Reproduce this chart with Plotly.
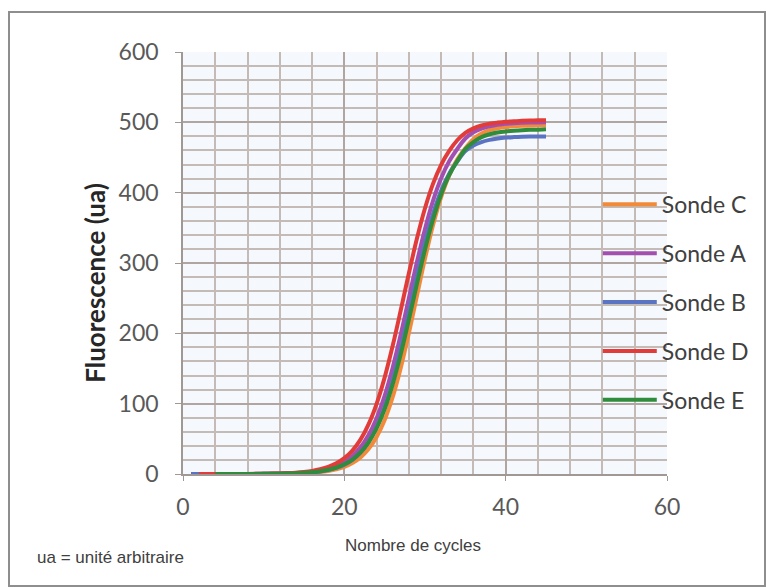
import plotly.graph_objects as go

# ---- data ----
cycles = list(range(1, 46))

sonde_c = [0.0, 0.0, 0.0, 0.01, 0.02, 0.03, 0.04, 0.06, 0.09, 0.13, 0.21, 0.32, 0.49, 0.76, 1.17,
           1.81, 2.79, 4.3, 6.6, 10.1, 15.5, 23.5, 35.4, 52.7, 76.9, 109.5, 151.0, 200.1, 253.4, 306.2,
           354.0, 393.7, 424.6, 447.3, 463.3, 476.0, 484.0, 489.0, 491.5, 493.2, 494.3, 495.0, 495.5, 495.8, 496.0]
sonde_a = [0.01, 0.01, 0.02, 0.02, 0.03, 0.05, 0.08, 0.12, 0.18, 0.28, 0.42, 0.64, 0.97, 1.46, 2.2,
           3.35, 5.06, 7.63, 11.5, 17.2, 25.7, 37.9, 55.4, 79.4, 111.3, 151.5, 198.6, 250.0, 301.4, 348.5,
           388.7, 420.6, 444.6, 462.1, 477.0, 486.0, 491.0, 494.5, 496.5, 498.0, 498.8, 499.3, 499.6, 499.8, 500.0]
sonde_b = [0.0, 0.0, 0.0, 0.01, 0.02, 0.03, 0.05, 0.07, 0.11, 0.18, 0.27, 0.42, 0.65, 1.0, 1.54,
           2.37, 3.65, 5.62, 8.63, 13.2, 20.1, 30.3, 45.3, 66.6, 95.6, 133.2, 178.7, 229.6, 281.3, 329.4,
           370.3, 402.8, 427.0, 444.3, 459.0, 467.0, 472.0, 475.0, 477.0, 478.3, 479.0, 479.5, 479.8, 480.0, 480.0]
# Sonde D starts at cycle 2
sonde_d = [0.0, 0.0, 0.0, 0.05, 0.07, 0.1, 0.16, 0.24, 0.36, 0.55, 0.84, 1.3, 1.9, 2.9,
           4.4, 6.7, 10.0, 15.1, 22.5, 33.3, 48.9, 70.6, 99.8, 137.4, 182.6, 233.2, 285.4, 334.7,
           377.8, 412.8, 439.6, 459.4, 474.5, 485.0, 491.5, 495.5, 498.0, 499.6, 500.8, 501.6, 502.1, 502.5, 502.8, 503.0]
# Sonde E starts at cycle 4
sonde_e = [0.02, 0.03, 0.04, 0.07, 0.1, 0.15, 0.22, 0.33, 0.51, 0.77, 1.16, 1.76,
           2.67, 4.03, 6.09, 9.18, 13.8, 20.6, 30.6, 45.0, 65.2, 92.5, 127.8, 170.8, 219.6, 270.4,
           319.2, 362.2, 397.5, 424.8, 445.0, 462.0, 472.0, 479.0, 483.0, 485.5, 487.0, 488.0, 488.8, 489.3, 489.6, 490.0]

series_names = ["Sonde C", "Sonde A", "Sonde B", "Sonde D", "Sonde E"]
series_x = [cycles, cycles, cycles, cycles[1:], cycles[3:]]
series_y = [sonde_c, sonde_a, sonde_b, sonde_d, sonde_e]
series_colors = ["#f28a3a", "#a24fb0", "#5a73c2", "#e23c3a", "#2f8c3c"]

x_ticks = [0, 20, 40, 60]
y_ticks = [0, 100, 200, 300, 400, 500, 600]

# ---- figure ----
fig = go.Figure()
for i, (nm, xs, ys, col) in enumerate(zip(series_names, series_x, series_y, series_colors)):
    fig.add_trace(go.Scatter(
        x=xs, y=ys, name=nm, mode="lines",
        line=dict(color=col, width=4, shape="spline", smoothing=1.0),
        legendgroup=f"g{i}",
    ))

grid_major = "#b0a5a1"
grid_minor = "#c4bbb7"

fig.update_layout(
    width=766, height=588,
    margin=dict(l=183, r=99, t=52, b=114),
    paper_bgcolor="#ffffff",
    plot_bgcolor="#f5f8fc",
    font=dict(family="Lato", size=23, color="#595959"),
    showlegend=True,
    legend=dict(
        x=0.857, y=0.69, xanchor="left", yanchor="top",
        bgcolor="rgba(0,0,0,0)",
        font=dict(family="Lato", size=23, color="#404040"),
        tracegroupgap=16,
        itemwidth=54,
        traceorder="grouped",
    ),
    xaxis=dict(
        range=[0, 60], tickvals=x_ticks, ticktext=[str(v) for v in x_ticks],
        showgrid=True, gridcolor=grid_major, gridwidth=1.6,
        minor=dict(dtick=4, showgrid=True, gridcolor=grid_minor, gridwidth=1.5),
        showline=True, linecolor="#a09894", linewidth=1.5,
        ticks="outside", ticklen=5, tickcolor="#a09894",
        ticklabelstandoff=7,
        tickfont=dict(family="Lato", size=23, color="#595959"),
        zeroline=False,
    ),
    yaxis=dict(
        range=[0, 600], tickvals=y_ticks, ticktext=[str(v) for v in y_ticks],
        showgrid=True, gridcolor=grid_major, gridwidth=1.6,
        minor=dict(dtick=20, showgrid=True, gridcolor=grid_minor, gridwidth=1.5),
        showline=True, linecolor="#a09894", linewidth=1.5,
        ticks="outside", ticklen=6, tickcolor="#a09894",
        ticklabelstandoff=12,
        tickfont=dict(family="Lato", size=23, color="#595959"),
        zeroline=False,
    ),
    annotations=[
        dict(text="<b>Fluorescence (ua)</b>", xref="paper", yref="paper",
             x=-0.1818, y=0.453, xanchor="center", yanchor="middle", textangle=-90,
             showarrow=False, font=dict(family="Lato", size=26, color="#262626")),
        dict(text="Nombre de cycles", xref="paper", yref="paper",
             x=0.475, y=-0.1706, xanchor="center", yanchor="middle",
             showarrow=False, font=dict(family="Liberation Sans", size=17, color="#404040")),
        dict(text="ua = unité arbitraire", xref="paper", yref="paper",
             x=-0.306, y=-0.199, xanchor="left", yanchor="middle",
             showarrow=False, font=dict(family="Liberation Sans", size=17, color="#404040")),
    ],
    shapes=[
        dict(type="rect", xref="paper", yref="paper",
             x0=-0.3595, x1=1.2025, y0=-0.2654, y1=1.0948,
             line=dict(color="#8e8e8e", width=2), fillcolor="rgba(0,0,0,0)", layer="below"),
    ],
)

fig.write_html("out.html")
